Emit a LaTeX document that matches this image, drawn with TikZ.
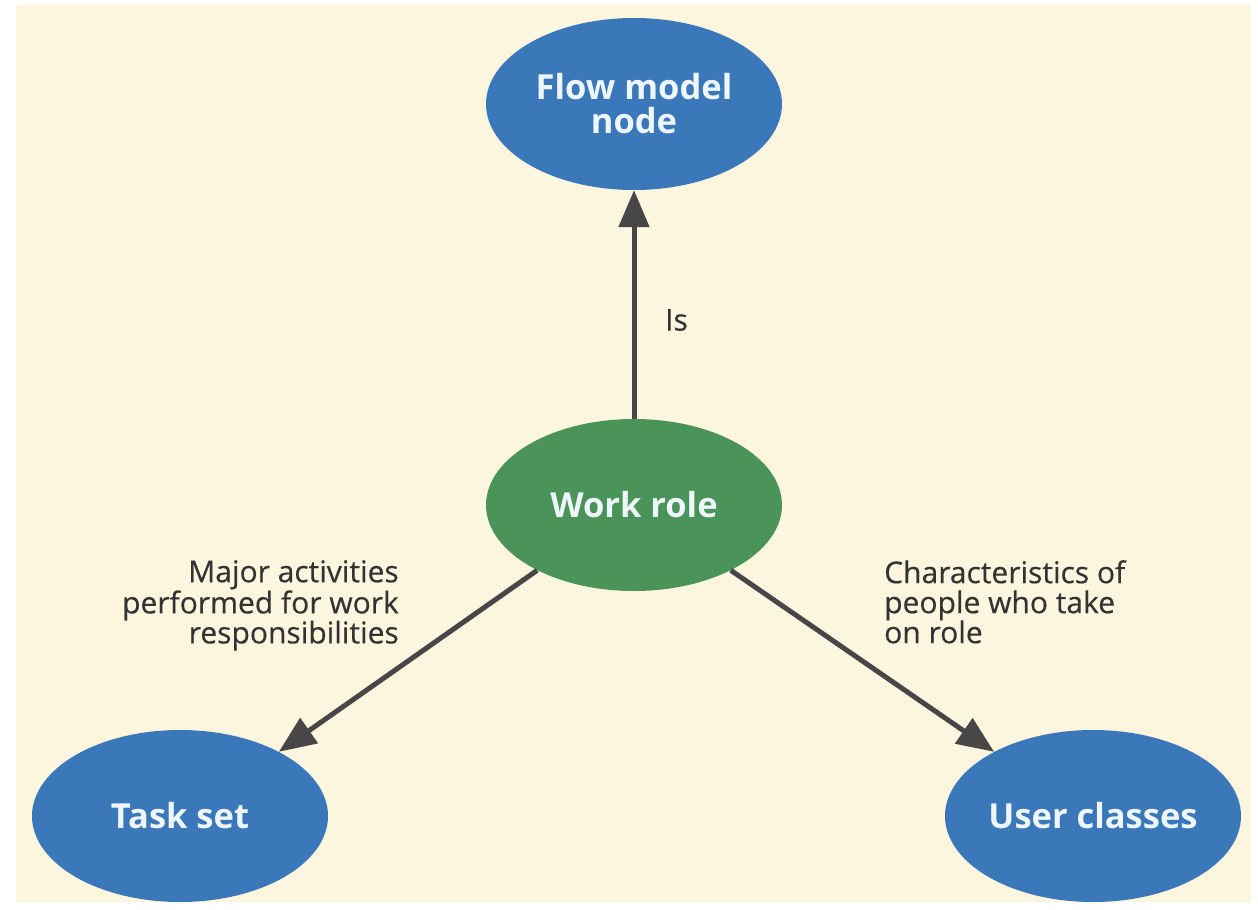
\documentclass[tikz,border=0pt]{standalone}
\usepackage{fontspec}
\setmainfont{Open Sans}
\newfontfamily\notefont[FakeBold=0.4]{Open Sans}
\usetikzlibrary{shapes.geometric,arrows.meta}
\definecolor{cream}{HTML}{FDF6DF}
\definecolor{nodeblue}{HTML}{3B78B9}
\definecolor{rolegreen}{HTML}{4A9459}
\definecolor{arrowgray}{HTML}{474747}
\definecolor{labelgray}{HTML}{333333}
\definecolor{nodetext}{HTML}{EEF6FB}
\begin{document}
\begin{tikzpicture}[x=1pt,y=-1pt,
  bubble/.style={ellipse, minimum width=296pt, minimum height=172pt,
    inner sep=0pt, text=nodetext, align=center,
    font=\fontsize{34.5}{34}\selectfont\bfseries},
  bluebubble/.style={bubble, fill=nodeblue},
  greenbubble/.style={bubble, fill=rolegreen},
  link/.style={draw=arrowgray, line width=5pt,
    -{Triangle[length=37pt,width=30pt]}},
  note/.style={text=labelgray, inner sep=0pt,
    font=\notefont\fontsize{30}{30}\selectfont}]
\useasboundingbox (0,0) rectangle (1258,910);
% page and panel
\fill[white] (0,0) rectangle (1258,910);
\fill[cream] (16,5) rectangle (1251,902);
% entities
\node[bluebubble] (flow) at (634,104) {Flow model\\node};
\node[greenbubble] (role) at (634,505) {Work role};
\node[bluebubble] (task) at (180,816) {Task set};
\node[bluebubble] (users) at (1093,816) {User classes};
% relations
\draw[link] (role.north) -- (flow.south);
\draw[link] (role.214.5) -- (task.33.7);
\draw[link] (role.-34) -- (users.147);
% relation labels
\node[note, anchor=west] (islbl) at (665,320) {Is};
\node[note, align=right, anchor=north east] (majorlbl) at (399,560)
  {Major activities\\performed for work\\responsibilities};
\node[note, align=left, anchor=north west] (charlbl) at (884,560)
  {Characteristics of\\people who take\\on role};
\end{tikzpicture}
\end{document}
